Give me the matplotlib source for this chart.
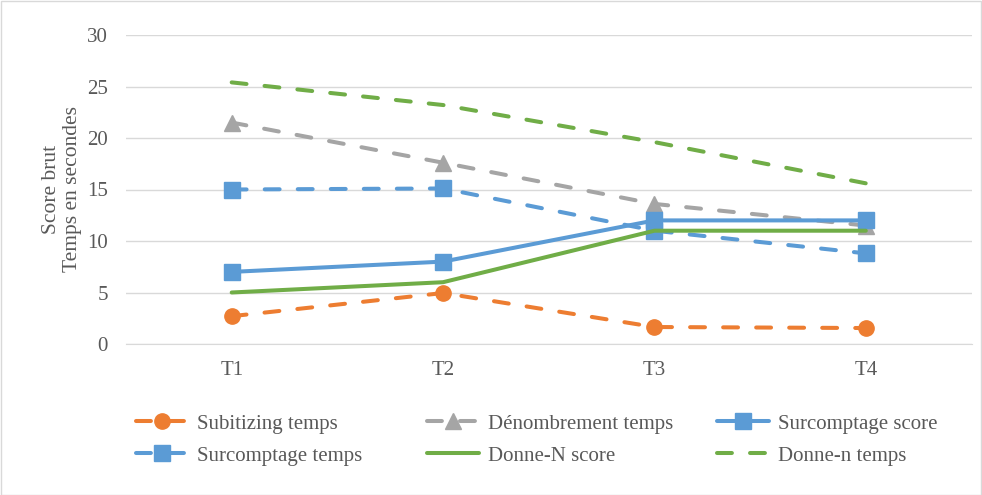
import matplotlib
matplotlib.use("Agg")
import matplotlib.pyplot as plt
from matplotlib.patches import Rectangle

plt.rcParams['font.family'] = ['Liberation Serif', 'DejaVu Serif']

categories = ["T1", "T2", "T3", "T4"]
subitizing_temps = [2.7, 4.95, 1.65, 1.55]
denombrement_temps = [21.5, 17.6, 13.6, 11.5]
surcomptage_score = [7, 8, 12, 12]
surcomptage_temps = [15, 15.1, 11, 8.8]
donne_n_score = [5, 6, 11, 11]
donne_n_temps = [25.4, 23.2, 19.6, 15.6]
yticks = [0, 5, 10, 15, 20, 25, 30]

orange = "#ED7D31"
gray = "#A5A5A5"
blue = "#5B9BD5"
green = "#70AD47"
txt = "#595959"

fig = plt.figure(figsize=(9.82, 4.95), dpi=100)
ax = fig.add_axes([126/982, 1-344/495, (971.5-126)/982, (344-35)/495])

x = list(range(len(categories)))
lw = 2.9
dash = (3.7, 4.5)
ms = 12
common = dict(lw=lw, dash_capstyle='round', solid_capstyle='round')

h1, = ax.plot(x, subitizing_temps, color=orange, dashes=dash, marker='o', ms=11, label="Subitizing temps", **common)
h2, = ax.plot(x, denombrement_temps, color=gray, dashes=dash, marker='^', ms=ms, label="Dénombrement temps", **common)
h3, = ax.plot(x, surcomptage_score, color=blue, marker='s', ms=ms, label="Surcomptage score", **common)
h4, = ax.plot(x, surcomptage_temps, color=blue, dashes=dash, marker='s', ms=ms, label="Surcomptage temps", **common)
h5, = ax.plot(x, donne_n_score, color=green, label="Donne-N score", **common)
h6, = ax.plot(x, donne_n_temps, color=green, dashes=dash, label="Donne-n temps", **common)

ax.set_xlim(-0.5, len(categories) - 0.5)
ax.set_ylim(0, 30)
ax.set_yticks(yticks)
ax.set_xticks(x)
ax.set_xticklabels(categories)
ax.grid(axis='y', color='#d9d9d9', lw=1)
ax.set_axisbelow(True)
for s in ['top', 'right', 'left']:
    ax.spines[s].set_visible(False)
ax.spines['bottom'].set_color('#d9d9d9')
ax.tick_params(axis='both', length=0, labelsize=15, colors=txt)
ax.tick_params(axis='y', pad=13)
ax.tick_params(axis='x', pad=12)
ax.set_ylabel("Score brut\nTemps en secondes", fontsize=15.5, color=txt, labelpad=4, linespacing=1.1)

cols = [([h1, h4], 136), ([h2, h5], 427), ([h3, h6], 717)]
for handles, xp in cols:
    leg = fig.legend(handles=handles, loc='upper left', bbox_to_anchor=(xp/982, 1-414/495),
                     frameon=False, fontsize=15, handlelength=2.5, handletextpad=0.45,
                     borderpad=0, borderaxespad=0, labelspacing=0.6)
    for t in leg.get_texts():
        t.set_color(txt)

fig.patches.append(Rectangle((0.001, 0.001), 0.998, 0.997, transform=fig.transFigure,
                             fill=False, edgecolor='#d9d9d9', lw=1))

fig.savefig("out.png", dpi=100)
